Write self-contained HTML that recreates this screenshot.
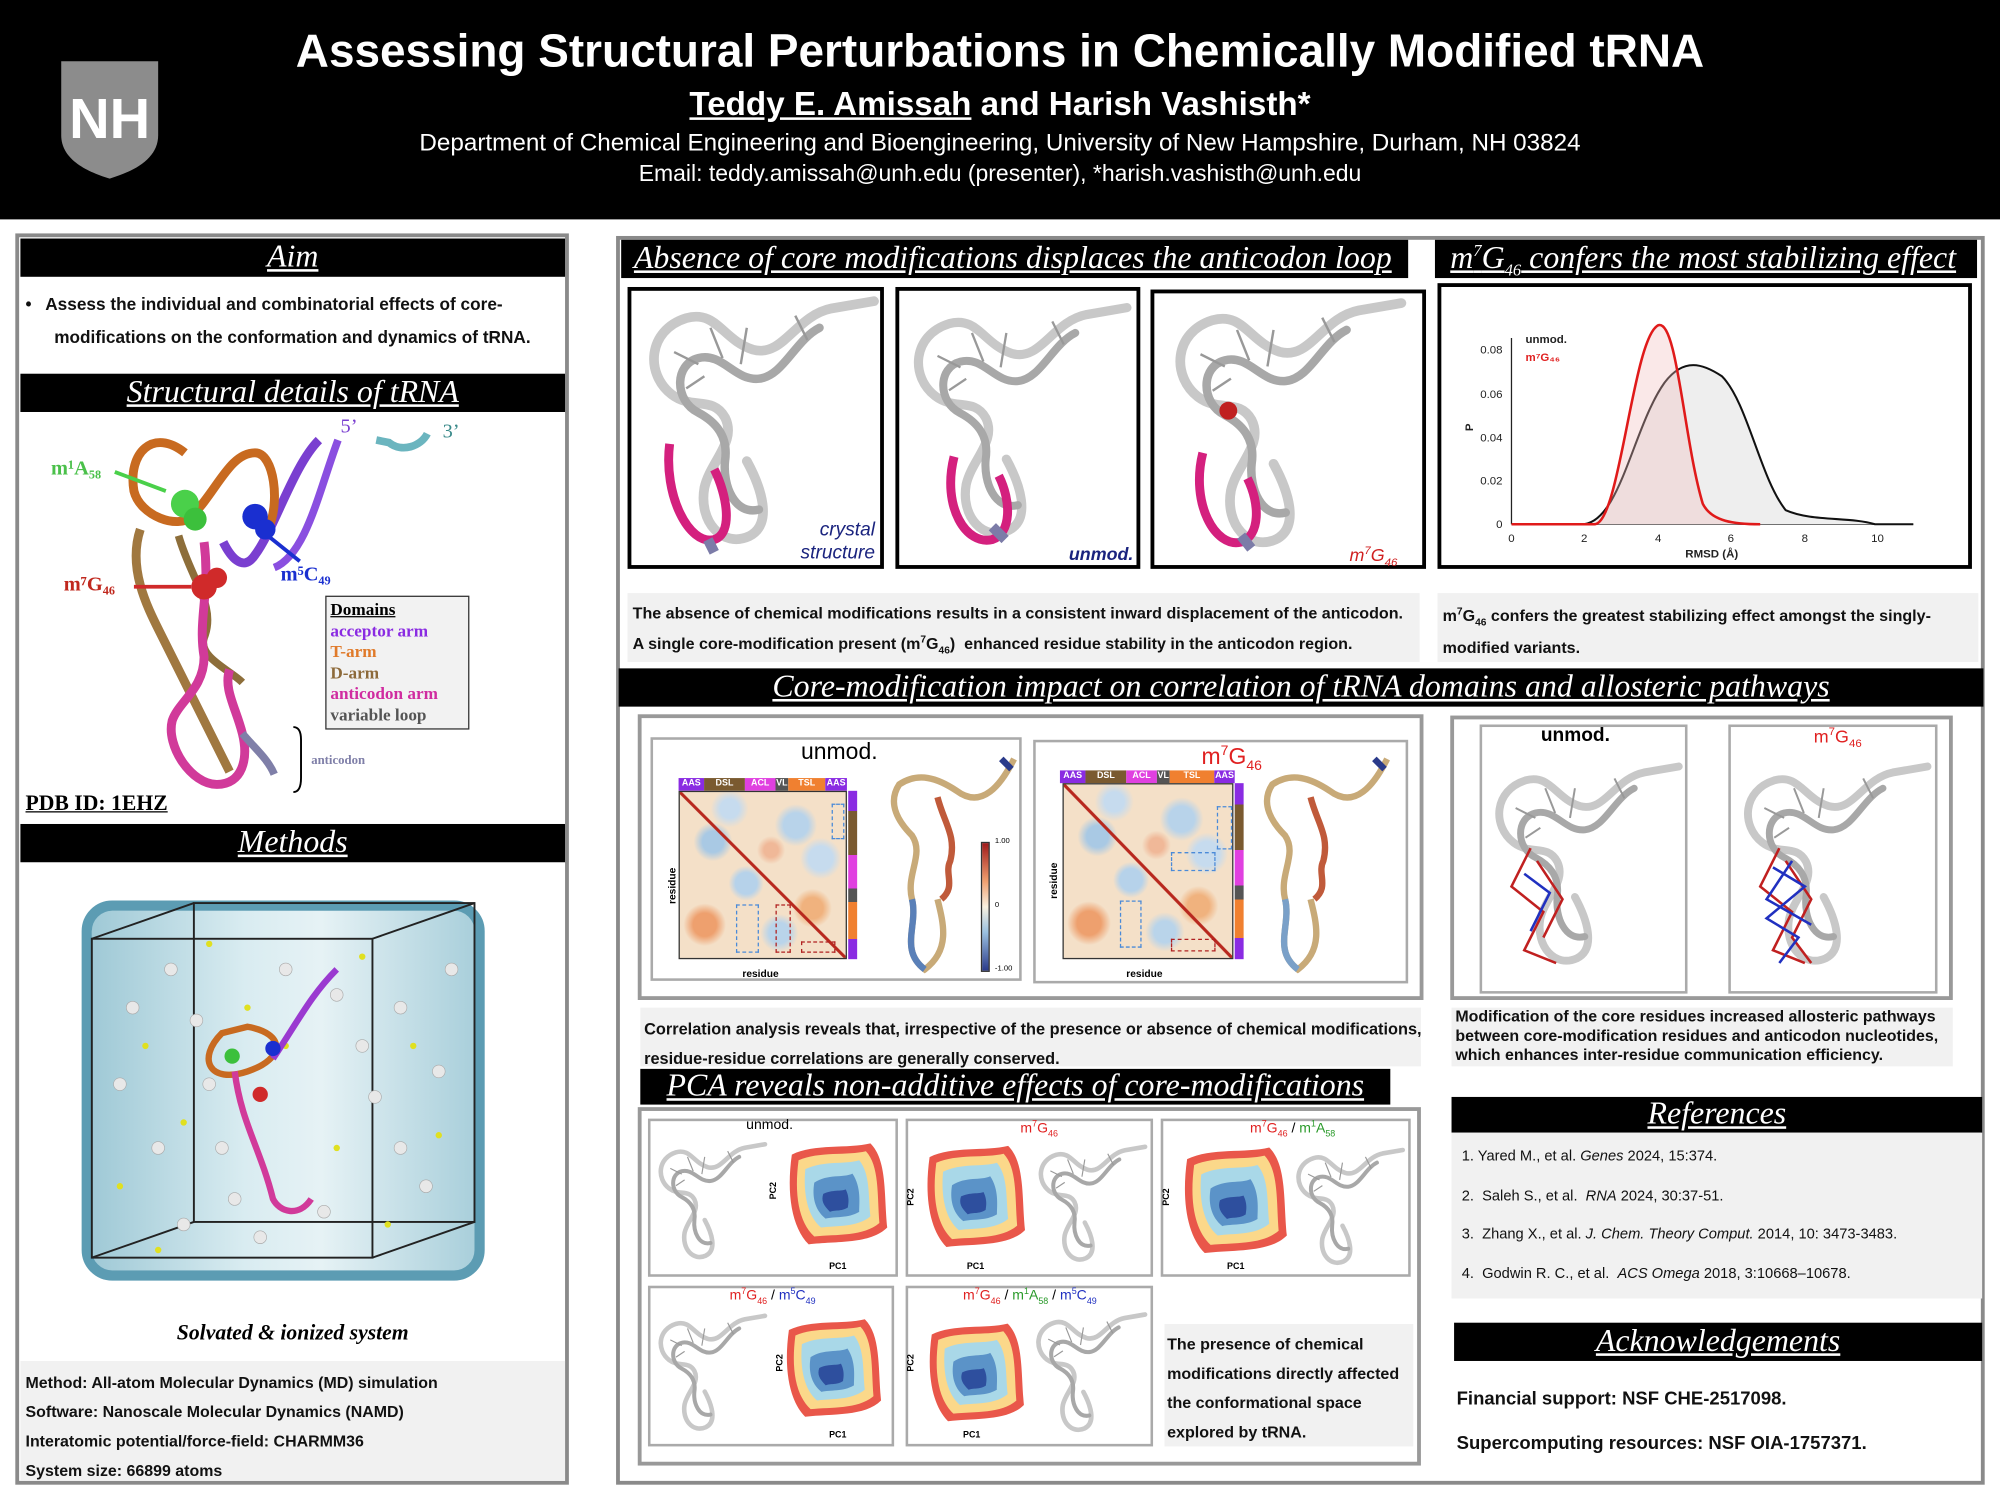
<!DOCTYPE html>
<html><head><meta charset="utf-8">
<style>
*{margin:0;padding:0;box-sizing:border-box}
html,body{width:2000px;height:1500px;overflow:hidden;background:#fff}
#w{position:absolute;left:0;top:0;width:1568px;height:1176px;transform:scale(1.27551);transform-origin:0 0;font-family:"Liberation Sans",sans-serif}
sup,sub{line-height:0}
.a{position:absolute}
.bar{position:absolute;background:#000;color:#fff;font-family:"Liberation Serif",serif;font-style:italic;text-decoration:underline;text-align:center;font-size:25px;line-height:30px;height:30px;white-space:nowrap;overflow:hidden}
.gb{position:absolute;border:3px solid #8a8a8a}
.txt{position:absolute;font-weight:bold;font-size:13px;color:#111;white-space:nowrap}
.gray{position:absolute;background:#f1f1f1}
.kb{position:absolute;border:3px solid #000;background:#fff}
.sb{position:absolute;border:2px solid #aaa;background:#fff}
.hm{position:absolute;background:
linear-gradient(to top right,transparent 49.2%,#b8281e 49.5%,#b8281e 50.5%,transparent 50.8%),
radial-gradient(circle at 20% 30%,#a9c9e4 0 6%,transparent 11%),
radial-gradient(circle at 70% 20%,#b8d3ea 0 7%,transparent 12%),
radial-gradient(circle at 40% 55%,#b6d2ea 0 8%,transparent 13%),
radial-gradient(circle at 80% 70%,#f0b27e 0 6%,transparent 11%),
radial-gradient(circle at 15% 80%,#eea06e 0 6%,transparent 11%),
radial-gradient(circle at 60% 85%,#b9d4ea 0 6%,transparent 11%),
radial-gradient(circle at 85% 40%,#c6dbee 0 7%,transparent 12%),
radial-gradient(circle at 30% 10%,#c6dbee 0 5%,transparent 10%),
radial-gradient(circle at 55% 35%,#f0b898 0 5%,transparent 10%),
#f4e0c8;border:1px solid #333}
.lbl{position:absolute;font-size:7px;color:#fff;font-weight:bold;text-align:center;line-height:10px}
</style></head><body><div id="w">

<svg width="0" height="0" style="position:absolute">
<defs>
<symbol id="trna" viewBox="0 0 200 220">
<path d="M195,8 L160,14 C130,20 120,55 95,48 C70,40 65,15 40,22 C8,32 6,68 28,85 C45,98 62,86 72,104 C82,124 60,140 55,162 C50,190 70,212 92,202 C112,192 102,162 90,140" stroke="#c8c8c8" stroke-width="8" fill="none" stroke-linecap="round"/>
<path d="M150,30 C130,40 120,70 100,72 C80,74 70,50 50,55 C30,60 30,90 50,100 C65,108 75,120 72,140 C70,160 80,185 100,180" stroke="#a8a8a8" stroke-width="7" fill="none" stroke-linecap="round"/>
<g stroke="#999" stroke-width="2"><line x1="60" y1="30" x2="70" y2="55"/><line x1="90" y1="30" x2="85" y2="60"/><line x1="130" y1="20" x2="140" y2="40"/><line x1="30" y1="50" x2="50" y2="60"/><line x1="40" y1="80" x2="55" y2="70"/></g>
</symbol>
<symbol id="blob" viewBox="0 0 100 100">
<path d="M10,15 C30,5 60,10 80,5 C95,20 92,50 95,80 C80,95 50,92 25,95 C10,80 5,50 10,15Z" fill="#e9574a"/>
<path d="M16,20 C34,12 60,16 76,12 C88,25 86,50 88,76 C74,88 50,86 30,88 C16,75 12,50 16,20Z" fill="#fbd88a"/>
<path d="M22,28 C38,20 58,24 70,20 C80,32 78,52 80,70 C68,80 50,78 36,80 C24,70 20,50 22,28Z" fill="#a9d8e8"/>
<path d="M30,40 C42,32 56,36 64,32 C72,44 70,58 70,66 C60,72 48,70 40,72 C30,64 28,52 30,40Z" fill="#5b93c8"/>
<path d="M38,50 C46,46 54,48 58,46 C62,54 60,60 60,62 C54,66 48,64 44,66 C38,60 36,56 38,50Z" fill="#2e4f9e"/>
</symbol>
</defs></svg>

<!-- HEADER -->
<div class="a" style="left:0;top:0;width:1568px;height:172px;background:#000"></div>
<svg class="a" style="left:46px;top:46px" width="80" height="96" viewBox="0 0 80 96"><path d="M2,2 H78 V60 C78,78 60,88 40,94 C20,88 2,78 2,60Z" fill="#8c8c8c"/><text x="40" y="62" font-family="Liberation Sans" font-weight="bold" font-size="44" fill="#fff" text-anchor="middle">NH</text></svg>
<div class="a" style="left:0;width:1568px;top:19px;text-align:center;color:#fff;font-weight:bold;font-size:36px">Assessing Structural Perturbations in Chemically Modified tRNA</div>
<div class="a" style="left:0;width:1568px;top:66px;text-align:center;color:#fff;font-weight:bold;font-size:26px"><u>Teddy E. Amissah</u> and Harish Vashisth*</div>
<div class="a" style="left:0;width:1568px;top:102px;text-align:center;color:#fff;font-size:19px">Department of Chemical Engineering and Bioengineering, University of New Hampshire, Durham, NH 03824</div>
<div class="a" style="left:0;width:1568px;top:126px;text-align:center;color:#fff;font-size:18px">Email: teddy.amissah@unh.edu (presenter), *harish.vashisth@unh.edu</div>

<!-- LEFT PANEL -->
<div class="gb" style="left:12px;top:183px;width:434px;height:981px"></div>
<div class="bar" style="left:16px;top:187px;width:427px">Aim</div>
<div class="txt" style="left:20px;top:226px;font-size:13.5px;line-height:26px">•&nbsp;&nbsp; Assess the individual and combinatorial effects of core-<br>&nbsp;&nbsp;&nbsp;&nbsp;&nbsp; modifications on the conformation and dynamics of tRNA.</div>
<div class="bar" style="left:16px;top:293px;width:427px">Structural details of tRNA</div>
<svg class="a" style="left:30px;top:325px" width="330" height="300" viewBox="0 0 330 300">
<path d="M220,20 C200,40 185,90 170,110 C160,125 150,110 145,100" stroke="#7a3fd0" stroke-width="7" fill="none"/>
<path d="M235,20 C220,60 210,110 185,120" stroke="#8a4fe0" stroke-width="6" fill="none"/>
<path d="M265,20 L275,22 C285,30 300,25 305,15" stroke="#6bb5bf" stroke-width="6" fill="none"/>
<path d="M115,30 C90,10 70,30 75,60 C80,80 110,90 120,80 C140,60 150,30 170,30 C185,30 190,70 180,90" stroke="#c86a20" stroke-width="7" fill="none"/>
<path d="M80,90 C70,120 85,150 95,170 C105,190 110,200 120,220 C130,240 140,260 150,280" stroke="#a07840" stroke-width="7" fill="none"/>
<path d="M110,95 C120,130 140,150 130,175 C125,190 150,200 160,210" stroke="#8d6e3a" stroke-width="6" fill="none"/>
<path d="M130,100 C135,140 125,160 130,190 C130,215 110,225 105,240 C100,260 120,290 140,290 C160,290 165,270 160,250 C155,230 145,215 150,200" stroke="#d13a9a" stroke-width="7" fill="none"/>
<path d="M160,250 C170,262 180,270 185,282" stroke="#7f7fa8" stroke-width="6" fill="none"/>
<circle cx="115" cy="70" r="11" fill="#4ad04a"/><circle cx="123" cy="82" r="9" fill="#3cc03c"/>
<circle cx="170" cy="80" r="10" fill="#1a2fd0"/><circle cx="178" cy="90" r="8" fill="#1a2fd0"/>
<circle cx="130" cy="135" r="10" fill="#d02a2a"/><circle cx="140" cy="128" r="8" fill="#d02a2a"/>
<line x1="100" y1="60" x2="60" y2="45" stroke="#4ad04a" stroke-width="3"/>
<line x1="180" y1="95" x2="205" y2="115" stroke="#1a2fd0" stroke-width="3"/>
<line x1="120" y1="135" x2="75" y2="135" stroke="#d02a2a" stroke-width="3"/>
<text x="10" y="47" font-family="Liberation Serif" font-weight="bold" font-size="16" fill="#4ac04a">m¹A₅₈</text>
<text x="190" y="130" font-family="Liberation Serif" font-weight="bold" font-size="16" fill="#1a2fd0">m⁵C₄₉</text>
<text x="20" y="138" font-family="Liberation Serif" font-weight="bold" font-size="16" fill="#c0281e">m⁷G₄₆</text>
<text x="237" y="14" font-family="Liberation Serif" font-size="16" fill="#7a3fd0">5’</text>
<text x="317" y="18" font-family="Liberation Serif" font-size="16" fill="#3a8a8a">3’</text>
<path d="M200,245 Q206,245 206,255 L206,285 Q206,296 200,296" stroke="#000" stroke-width="1.5" fill="none"/>
<text x="214" y="274" font-family="Liberation Serif" font-weight="bold" font-size="10" fill="#7f7fa8">anticodon</text>
</svg>
<div class="a" style="left:255px;top:467px;width:113px;height:105px;border:1px solid #333;background:#f2f2f2;font-family:'Liberation Serif',serif;font-weight:bold;font-size:13.5px;line-height:16.5px;padding:2px 3px">
<u>Domains</u><br><span style="color:#8a2be2">acceptor arm</span><br><span style="color:#e07a2a">T-arm</span><br><span style="color:#8d6a3a">D-arm</span><br><span style="color:#d02ca0">anticodon arm</span><br><span style="color:#555">variable loop</span></div>
<div class="a" style="left:20px;top:620px;font-family:'Liberation Serif',serif;font-weight:bold;font-size:17px;text-decoration:underline">PDB ID: 1EHZ</div>
<div class="bar" style="left:16px;top:646px;width:427px">Methods</div>
<div class="a" style="left:64px;top:706px;width:316px;height:298px;border-radius:24px;background:linear-gradient(90deg,#9fc9d6,#d9ecf1 40%,#e6f2f5 60%,#a9cfdb);border:8px solid #5c9cb3"></div>
<svg class="a" style="left:64px;top:700px" width="316" height="310" viewBox="0 0 316 310">
<g stroke="#222" stroke-width="1.5" fill="none"><rect x="8" y="36" width="220" height="250"/><rect x="88" y="8" width="220" height="250"/><line x1="8" y1="36" x2="88" y2="8"/><line x1="228" y1="36" x2="308" y2="8"/><line x1="8" y1="286" x2="88" y2="258"/><line x1="228" y1="286" x2="308" y2="258"/></g>
<g fill="#e8e8e8" stroke="#aaa" stroke-width=".5">
<circle cx="40" cy="90" r="5"/><circle cx="70" cy="60" r="5"/><circle cx="100" cy="150" r="5"/><circle cx="60" cy="200" r="5"/><circle cx="120" cy="240" r="5"/><circle cx="250" cy="90" r="5"/><circle cx="230" cy="160" r="5"/><circle cx="270" cy="230" r="5"/><circle cx="200" cy="80" r="5"/><circle cx="160" cy="60" r="5"/><circle cx="90" cy="100" r="5"/><circle cx="280" cy="140" r="5"/><circle cx="250" cy="200" r="5"/><circle cx="140" cy="270" r="5"/><circle cx="190" cy="250" r="5"/><circle cx="30" cy="150" r="5"/><circle cx="110" cy="200" r="5"/><circle cx="220" cy="120" r="5"/><circle cx="80" cy="260" r="5"/><circle cx="290" cy="60" r="5"/></g>
<g fill="#e0e020"><circle cx="50" cy="120" r="2.5"/><circle cx="80" cy="180" r="2.5"/><circle cx="130" cy="90" r="2.5"/><circle cx="260" cy="120" r="2.5"/><circle cx="240" cy="260" r="2.5"/><circle cx="30" cy="230" r="2.5"/><circle cx="200" cy="200" r="2.5"/><circle cx="280" cy="190" r="2.5"/><circle cx="160" cy="120" r="2.5"/><circle cx="100" cy="40" r="2.5"/><circle cx="60" cy="280" r="2.5"/><circle cx="220" cy="50" r="2.5"/></g>
<path d="M110,110 C90,130 100,150 130,140 C160,130 160,110 130,105Z" stroke="#c86a20" stroke-width="5" fill="none"/>
<path d="M120,140 C125,180 140,200 150,240 C155,250 170,255 180,240" stroke="#d13a9a" stroke-width="5" fill="none"/>
<path d="M150,130 C170,100 180,80 200,60" stroke="#9a3ad0" stroke-width="5" fill="none"/>
<circle cx="118" cy="128" r="6" fill="#3cc03c"/><circle cx="150" cy="122" r="6" fill="#1a2fd0"/><circle cx="140" cy="158" r="6" fill="#d02a2a"/>
</svg>
<div class="a" style="left:16px;width:427px;top:1035px;text-align:center;font-family:'Liberation Serif',serif;font-style:italic;font-weight:bold;font-size:17px">Solvated &amp; ionized system</div>
<div class="gray" style="left:16px;top:1067px;width:427px;height:94px"></div>
<div class="txt" style="left:20px;top:1073px;font-size:12.5px;line-height:23px">Method: All-atom Molecular Dynamics (MD) simulation<br>Software: Nanoscale Molecular Dynamics (NAMD)<br>Interatomic potential/force-field: CHARMM36<br>System size: 66899 atoms</div>

<!-- RIGHT PANEL -->
<div class="gb" style="left:483px;top:185px;width:1073px;height:979px"></div>
<div class="bar" style="left:487px;top:188px;width:617px;text-align:left;padding-left:10px">Absence of core modifications displaces the anticodon loop</div>
<div class="bar" style="left:1125px;top:188px;width:425px;text-align:left;padding-left:12px">m<sup style="font-size:13px">7</sup>G<sub style="font-size:13px">46</sub> confers the most stabilizing effect</div>

<div class="kb" style="left:492px;top:225px;width:201px;height:221px"></div>
<svg class="a" style="left:500px;top:228px" width="190" height="210"><use href="#trna" width="190" height="210"/><path d="M25,120 C20,160 40,200 60,195 C75,190 70,160 60,140" stroke="#d4207e" stroke-width="7" fill="none"/><path d="M55,195 l5,10" stroke="#7c7ca8" stroke-width="8"/></svg>
<div class="a" style="left:612px;top:407px;font-style:italic;font-size:15px;color:#1a237e;text-align:right;line-height:18px;width:74px">crystal<br>structure</div>
<div class="kb" style="left:702px;top:225px;width:192px;height:221px"></div>
<svg class="a" style="left:708px;top:228px" width="180" height="210"><use href="#trna" width="180" height="210"/><path d="M40,130 C30,170 50,200 70,195 C85,190 85,165 75,145" stroke="#d4207e" stroke-width="7" fill="none"/><path d="M70,185 l10,10" stroke="#7c7ca8" stroke-width="8"/></svg>
<div class="a" style="left:838px;top:426px;font-style:italic;font-weight:bold;font-size:14px;color:#1a237e">unmod.</div>
<div class="kb" style="left:902px;top:227px;width:216px;height:219px"></div>
<svg class="a" style="left:908px;top:230px" width="200" height="210"><use href="#trna" width="200" height="210"/><path d="M35,125 C25,165 45,200 65,195 C80,190 80,165 70,145" stroke="#d4207e" stroke-width="7" fill="none"/><circle cx="55" cy="92" r="7" fill="#c02020"/><path d="M65,190 l8,10" stroke="#7c7ca8" stroke-width="8"/></svg>
<div class="a" style="left:1058px;top:427px;font-style:italic;font-size:14px;color:#d02020">m<sup style="font-size:9px">7</sup>G<sub style="font-size:9px">46</sub></div>

<div class="kb" style="left:1127px;top:222px;width:419px;height:224px"></div>
<svg class="a" style="left:1130px;top:225px" width="413" height="218" viewBox="0 0 413 218">
<g font-family="Liberation Sans" font-size="9" fill="#222">
<line x1="55" y1="40" x2="55" y2="186" stroke="#222"/><line x1="55" y1="186" x2="370" y2="186" stroke="#222"/>
<text x="48" y="52" text-anchor="end">0.08</text><text x="48" y="87" text-anchor="end">0.06</text><text x="48" y="121" text-anchor="end">0.04</text><text x="48" y="155" text-anchor="end">0.02</text><text x="48" y="189" text-anchor="end">0</text>
<text x="55" y="200" text-anchor="middle">0</text><text x="112" y="200" text-anchor="middle">2</text><text x="170" y="200" text-anchor="middle">4</text><text x="227" y="200" text-anchor="middle">6</text><text x="285" y="200" text-anchor="middle">8</text><text x="342" y="200" text-anchor="middle">10</text>
<text x="212" y="212" text-anchor="middle" font-weight="bold">RMSD (Å)</text>
<text x="25" y="113" font-weight="bold" transform="rotate(-90 25 113)">P</text>
<text x="66" y="44" font-weight="bold">unmod.</text><text x="66" y="58" font-weight="bold" fill="#e02020">m⁷G₄₆</text>
</g>
<path d="M55,186 L110,186 C140,186 150,110 175,75 C190,55 205,60 220,70 C240,90 250,150 270,175 C290,184 320,180 340,186 L370,186" fill="#eeeeee" stroke="#111" stroke-width="1.6"/>
<path d="M55,186 L120,186 C140,186 150,40 170,30 C185,25 190,120 205,170 C212,184 230,186 250,186" fill="rgba(240,190,190,.35)" stroke="#e01a1a" stroke-width="2"/>
</svg>

<div class="gray" style="left:492px;top:465px;width:621px;height:54px"></div>
<div class="txt" style="left:496px;top:469px;line-height:24px;font-size:12.6px">The absence of chemical modifications results in a consistent inward displacement of the anticodon.<br>A single core-modification present (m<sup style="font-size:8px">7</sup>G<sub style="font-size:8px">46</sub>)&nbsp; enhanced residue stability in the anticodon region.</div>
<div class="gray" style="left:1127px;top:465px;width:424px;height:54px"></div>
<div class="txt" style="left:1131px;top:471px;line-height:25px;font-size:12.6px">m<sup style="font-size:8px">7</sup>G<sub style="font-size:8px">46</sub> confers the greatest stabilizing effect amongst the singly-<br>modified variants.</div>

<div class="bar" style="left:485px;top:524px;width:1070px">Core-modification impact on correlation of tRNA domains and allosteric pathways</div>

<div class="a" style="left:500px;top:560px;width:616px;height:224px;border:3px solid #999"></div>
<div class="sb" style="left:510px;top:578px;width:291px;height:191px"></div>
<div class="sb" style="left:810px;top:580px;width:294px;height:191px"></div>
<div class="a" style="left:628px;top:579px;font-size:18px">unmod.</div>
<div class="a" style="left:942px;top:583px;font-size:18px;color:#e02020">m<sup style="font-size:11px">7</sup>G<sub style="font-size:11px">46</sub></div>
<!-- heatmap 1 -->
<div class="lbl" style="left:532px;top:610px;width:20px;background:#8a2be2">AAS</div>
<div class="lbl" style="left:552px;top:610px;width:32px;background:#7a5a30">DSL</div>
<div class="lbl" style="left:584px;top:610px;width:24px;background:#e040e0">ACL</div>
<div class="lbl" style="left:608px;top:610px;width:10px;background:#555">VL</div>
<div class="lbl" style="left:618px;top:610px;width:29px;background:#f08030">TSL</div>
<div class="lbl" style="left:647px;top:610px;width:17px;background:#8a2be2">AAS</div>
<div class="hm" style="left:532px;top:620px;width:132px;height:132px"></div>
<div class="a" style="left:665px;top:620px;width:7px;height:132px;background:linear-gradient(#8a2be2 0 12%,#7a5a30 12% 38%,#e040e0 38% 58%,#555 58% 66%,#f08030 66% 88%,#8a2be2 88%)"></div>
<div class="a" style="left:577px;top:709px;width:18px;height:38px;border:1.5px dashed #4a8ad8"></div>
<div class="a" style="left:608px;top:709px;width:12px;height:38px;border:1.5px dashed #b02020"></div>
<div class="a" style="left:628px;top:738px;width:27px;height:9px;border:1.5px dashed #b02020"></div>
<div class="a" style="left:652px;top:630px;width:10px;height:28px;border:1.5px dashed #4a8ad8"></div>
<div class="a" style="left:513px;top:690px;font-size:8px;font-weight:bold;transform:rotate(-90deg)">residue</div>
<div class="a" style="left:582px;top:759px;font-size:8px;font-weight:bold">residue</div>
<div class="a" style="left:769px;top:660px;width:7px;height:102px;border:1px solid #333;background:linear-gradient(#a01a1a,#f0a070 30%,#f8f0e0 50%,#9ac0e0 70%,#2a3a8a)"></div>
<div class="a" style="left:780px;top:657px;font-size:6px">1.00</div><div class="a" style="left:780px;top:707px;font-size:6px">0</div><div class="a" style="left:780px;top:757px;font-size:6px">-1.00</div>
<svg class="a" style="left:690px;top:585px" width="110" height="180" viewBox="0 0 110 180"><path d="M105,10 C95,30 80,50 60,35 C45,25 30,20 15,30 C5,45 15,60 25,70 C35,85 20,100 25,120 C30,140 15,160 35,175 C55,160 50,140 45,120" stroke="#c8aa78" stroke-width="5" fill="none"/><path d="M45,40 C50,60 60,70 55,90 C50,100 60,110 48,120" stroke="#c05a3a" stroke-width="5" fill="none"/><path d="M25,120 C30,140 15,160 35,175" stroke="#5a80b8" stroke-width="5" fill="none"/><path d="M95,10 l8,8" stroke="#2a3a8a" stroke-width="5"/></svg>
<!-- heatmap 2 -->
<div class="lbl" style="left:831px;top:604px;width:20px;background:#8a2be2">AAS</div>
<div class="lbl" style="left:851px;top:604px;width:32px;background:#7a5a30">DSL</div>
<div class="lbl" style="left:883px;top:604px;width:24px;background:#e040e0">ACL</div>
<div class="lbl" style="left:907px;top:604px;width:10px;background:#555">VL</div>
<div class="lbl" style="left:917px;top:604px;width:35px;background:#f08030">TSL</div>
<div class="lbl" style="left:952px;top:604px;width:16px;background:#8a2be2">AAS</div>
<div class="hm" style="left:833px;top:614px;width:134px;height:138px"></div>
<div class="a" style="left:968px;top:614px;width:7px;height:138px;background:linear-gradient(#8a2be2 0 12%,#7a5a30 12% 38%,#e040e0 38% 58%,#555 58% 66%,#f08030 66% 88%,#8a2be2 88%)"></div>
<div class="a" style="left:878px;top:706px;width:17px;height:37px;border:1.5px dashed #4a8ad8"></div>
<div class="a" style="left:918px;top:668px;width:35px;height:15px;border:1.5px dashed #4a8ad8"></div>
<div class="a" style="left:918px;top:736px;width:35px;height:10px;border:1.5px dashed #b02020"></div>
<div class="a" style="left:954px;top:632px;width:12px;height:34px;border:1.5px dashed #4a8ad8"></div>
<div class="a" style="left:812px;top:686px;font-size:8px;font-weight:bold;transform:rotate(-90deg)">residue</div>
<div class="a" style="left:883px;top:759px;font-size:8px;font-weight:bold">residue</div>
<svg class="a" style="left:980px;top:585px" width="115" height="180" viewBox="0 0 110 180"><path d="M105,10 C95,30 80,50 60,35 C45,25 30,20 15,30 C5,45 15,60 25,70 C35,85 20,100 25,120 C30,140 15,160 35,175 C55,160 50,140 45,120" stroke="#c8aa78" stroke-width="5" fill="none"/><path d="M45,40 C50,60 60,70 55,90 C50,100 60,110 48,120" stroke="#c05a3a" stroke-width="5" fill="none"/><path d="M25,120 C30,140 15,160 35,175" stroke="#7aa0c8" stroke-width="5" fill="none"/><path d="M95,10 l8,8" stroke="#2a3a8a" stroke-width="5"/></svg>

<div class="a" style="left:1137px;top:561px;width:394px;height:223px;border:3px solid #999"></div>
<div class="sb" style="left:1160px;top:568px;width:163px;height:211px"></div>
<div class="sb" style="left:1355px;top:568px;width:164px;height:211px"></div>
<div class="a" style="left:1208px;top:568px;font-size:15px;font-weight:bold">unmod.</div>
<div class="a" style="left:1422px;top:569px;font-size:14px;color:#e02020">m<sup style="font-size:9px">7</sup>G<sub style="font-size:9px">46</sub></div>
<svg class="a" style="left:1165px;top:585px" width="155" height="190"><use href="#trna" width="155" height="190"/><path d="M35,80 L20,110 L45,130 L30,160 L55,170 M40,90 L60,120 L45,150" stroke="#c02020" stroke-width="2" fill="none"/><path d="M30,100 L50,115 L35,145" stroke="#2030c0" stroke-width="2" fill="none"/></svg>
<svg class="a" style="left:1360px;top:585px" width="155" height="190"><use href="#trna" width="155" height="190"/><path d="M35,80 L20,110 L45,130 L30,160 L55,170 M40,90 L60,120 L45,150 L60,170" stroke="#c02020" stroke-width="2" fill="none"/><path d="M30,95 L55,110 L25,135 L50,150 L35,170 M45,90 L25,120 L60,140" stroke="#2030c0" stroke-width="2" fill="none"/></svg>

<div class="gray" style="left:502px;top:790px;width:612px;height:46px"></div>
<div class="txt" style="left:505px;top:795px;line-height:23px;font-size:12.8px">Correlation analysis reveals that, irrespective of the presence or absence of chemical modifications,<br>residue-residue correlations are generally conserved.</div>
<div class="gray" style="left:1138px;top:790px;width:393px;height:46px"></div>
<div class="txt" style="left:1141px;top:790px;line-height:15px;font-size:12.5px">Modification of the core residues increased allosteric pathways<br>between core-modification residues and anticodon nucleotides,<br>which enhances inter-residue communication efficiency.</div>

<div class="bar" style="left:502px;top:838px;width:588px;height:28px;line-height:28px">PCA reveals non-additive effects of core-modifications</div>
<div class="a" style="left:500px;top:868px;width:614px;height:281px;border:3px solid #999"></div>
<div class="sb" style="left:508px;top:877px;width:196px;height:124px"></div>
<div class="sb" style="left:710px;top:877px;width:194px;height:124px"></div>
<div class="sb" style="left:910px;top:877px;width:196px;height:124px"></div>
<div class="sb" style="left:508px;top:1008px;width:193px;height:126px"></div>
<div class="sb" style="left:710px;top:1008px;width:194px;height:126px"></div>
<svg class="a" style="left:512px;top:888px" width="90" height="110"><use href="#trna" width="90" height="110"/></svg>
<svg class="a" style="left:612px;top:887px" width="88" height="98"><use href="#blob" width="88" height="98"/></svg>
<div class="a" style="left:585px;top:876px;font-size:11px">unmod.</div>
<div class="a" style="left:650px;top:990px;font-size:7px;font-weight:bold">PC1</div>
<div class="a" style="left:600px;top:930px;font-size:7px;font-weight:bold;transform:rotate(-90deg)">PC2</div>
<svg class="a" style="left:720px;top:893px" width="88" height="90"><use href="#blob" width="88" height="90"/></svg>
<svg class="a" style="left:810px;top:890px" width="90" height="110"><use href="#trna" width="90" height="110"/></svg>
<div class="a" style="left:800px;top:879px;font-size:11px;color:#e02020">m<sup style="font-size:7px">7</sup>G<sub style="font-size:7px">46</sub></div>
<div class="a" style="left:758px;top:990px;font-size:7px;font-weight:bold">PC1</div>
<div class="a" style="left:708px;top:935px;font-size:7px;font-weight:bold;transform:rotate(-90deg)">PC2</div>
<svg class="a" style="left:920px;top:895px" width="95" height="92"><use href="#blob" width="95" height="92"/></svg>
<svg class="a" style="left:1012px;top:895px" width="90" height="105"><use href="#trna" width="90" height="105"/></svg>
<div class="a" style="left:980px;top:879px;font-size:11px;color:#e02020">m<sup style="font-size:7px">7</sup>G<sub style="font-size:7px">46</sub> <span style="color:#000">/</span> <span style="color:#2a9a2a">m<sup style="font-size:7px">1</sup>A<sub style="font-size:7px">58</sub></span></div>
<div class="a" style="left:962px;top:990px;font-size:7px;font-weight:bold">PC1</div>
<div class="a" style="left:908px;top:935px;font-size:7px;font-weight:bold;transform:rotate(-90deg)">PC2</div>
<svg class="a" style="left:512px;top:1025px" width="90" height="105"><use href="#trna" width="90" height="105"/></svg>
<svg class="a" style="left:610px;top:1025px" width="85" height="95"><use href="#blob" width="85" height="95"/></svg>
<div class="a" style="left:572px;top:1010px;font-size:11px;color:#e02020">m<sup style="font-size:7px">7</sup>G<sub style="font-size:7px">46</sub> <span style="color:#000">/</span> <span style="color:#2030c0">m<sup style="font-size:7px">5</sup>C<sub style="font-size:7px">49</sub></span></div>
<div class="a" style="left:605px;top:1065px;font-size:7px;font-weight:bold;transform:rotate(-90deg)">PC2</div>
<div class="a" style="left:650px;top:1122px;font-size:7px;font-weight:bold">PC1</div>
<svg class="a" style="left:722px;top:1030px" width="85" height="92"><use href="#blob" width="85" height="92"/></svg>
<svg class="a" style="left:808px;top:1025px" width="92" height="105"><use href="#trna" width="92" height="105"/></svg>
<div class="a" style="left:755px;top:1010px;font-size:11px;color:#e02020">m<sup style="font-size:7px">7</sup>G<sub style="font-size:7px">46</sub> <span style="color:#000">/</span> <span style="color:#2a9a2a">m<sup style="font-size:7px">1</sup>A<sub style="font-size:7px">58</sub></span> <span style="color:#000">/</span> <span style="color:#2030c0">m<sup style="font-size:7px">5</sup>C<sub style="font-size:7px">49</sub></span></div>
<div class="a" style="left:708px;top:1065px;font-size:7px;font-weight:bold;transform:rotate(-90deg)">PC2</div>
<div class="a" style="left:755px;top:1122px;font-size:7px;font-weight:bold">PC1</div>
<div class="gray" style="left:913px;top:1038px;width:195px;height:96px"></div>
<div class="txt" style="left:915px;top:1043px;line-height:23px;font-size:12.6px">The presence of chemical<br>modifications directly affected<br>the conformational space<br>explored by tRNA.</div>

<div class="bar" style="left:1138px;top:860px;width:416px;height:28px;line-height:28px">References</div>
<div class="gray" style="left:1138px;top:888px;width:416px;height:130px"></div>
<div class="txt" style="left:1146px;top:892px;font-size:11.5px;font-weight:normal;line-height:30.5px">1. Yared M., et al. <i>Genes</i> 2024, 15:374.<br>2.&nbsp; Saleh S., et al.&nbsp; <i>RNA</i> 2024, 30:37-51.<br>3.&nbsp; Zhang X., et al. <i>J. Chem. Theory Comput.</i> 2014, 10: 3473-3483.<br>4.&nbsp; Godwin R. C., et al.&nbsp; <i>ACS Omega</i> 2018, 3:10668–10678.</div>
<div class="bar" style="left:1140px;top:1037px;width:414px">Acknowledgements</div>
<div class="txt" style="left:1142px;top:1080px;font-size:14.5px;line-height:35px">Financial support: NSF CHE-2517098.<br>Supercomputing resources: NSF OIA-1757371.</div>

</div></body></html>
